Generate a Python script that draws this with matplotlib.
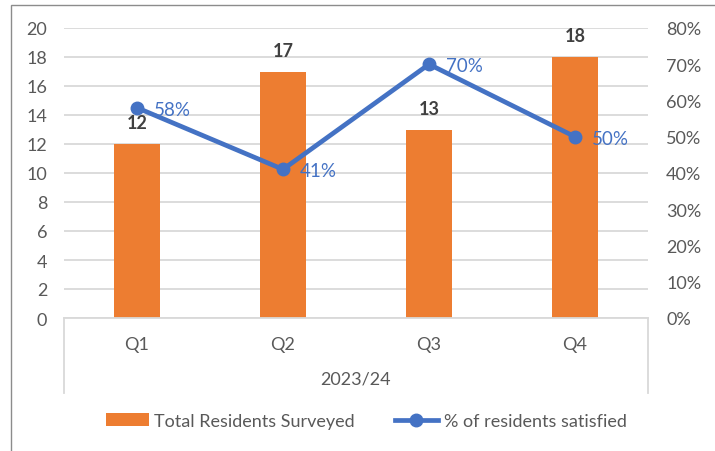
import matplotlib.pyplot as plt
from matplotlib.lines import Line2D
from matplotlib.patches import Rectangle

quarters = ["Q1", "Q2", "Q3", "Q4"]
period = "2023/24"
surveyed = [12, 17, 13, 18]
satisfied = [0.58, 0.41, 0.70, 0.50]
satisfied_labels = ["58%", "41%", "70%", "50%"]

orange = "#ED7D31"
blue = "#4472C4"
grid = "#D9D9D9"
text_col = "#595959"

plt.rcParams['font.family'] = ['Lato', 'DejaVu Sans']

fig = plt.figure(figsize=(7.15, 4.52), dpi=100)
ax = fig.add_axes([64 / 715, 1 - 319 / 452, 584 / 715, 290 / 452])
ax2 = ax.twinx()

x = list(range(len(quarters)))
bars = ax.bar(x, surveyed, width=0.315, color=orange, zorder=2)
for xi, v in zip(x, surveyed):
    ax.annotate(str(v), (xi, v), xytext=(0, 9), textcoords="offset points",
                ha="center", va="bottom", fontsize=13, fontweight="bold", color="#404040")

ax.set_ylim(0, 20)
ax.set_yticks(range(0, 21, 2))
ax.set_xlim(-0.5, 3.5)
ax.set_xticks(x)
ax.set_xticklabels(quarters)
ax.grid(axis="y", color=grid, linewidth=1.3, zorder=0)
ax.set_axisbelow(True)
ax.tick_params(axis="both", length=0, labelsize=13, labelcolor=text_col)
ax.tick_params(axis="y", pad=12)
ax.tick_params(axis="x", pad=13)
ax.set_xlabel(period, fontsize=13, color=text_col, labelpad=13)
for s in ["top", "left", "right"]:
    ax.spines[s].set_visible(False)
ax.spines["bottom"].set_color(grid)
ax.spines["bottom"].set_linewidth(1.3)

line, = ax2.plot(x, satisfied, color=blue, linewidth=3.4, marker="o", markersize=9, zorder=3)
for xi, v, lab in zip(x, satisfied, satisfied_labels):
    ax2.annotate(lab, (xi, v), xytext=(12, -1), textcoords="offset points",
                 ha="left", va="center", fontsize=13.5, color=blue)
ax2.set_ylim(0, 0.8)
ax2.set_yticks([i / 10 for i in range(9)])
ax2.set_yticklabels([f"{i * 10}%" for i in range(9)])
ax2.tick_params(axis="y", length=0, labelsize=13, labelcolor=text_col, pad=13)
for s in ax2.spines.values():
    s.set_visible(False)

# category box lines below the axis
for px in (64, 648):
    fig.add_artist(Line2D([px / 715, px / 715], [1 - 319 / 452, 1 - 394 / 452],
                          color=grid, linewidth=1.3))

# outer chart border
fig.add_artist(Rectangle((11 / 715, -0.1), 1.0, 1 - 6 / 452 + 0.1, fill=False,
                         edgecolor="#8C8C8C", linewidth=1.0))

fig.legend([bars, line], ["Total Residents Surveyed", "% of residents satisfied"],
           loc="center", bbox_to_anchor=(0.512, 1 - 422 / 452), ncol=2, frameon=False,
           fontsize=13, labelcolor=text_col, handlelength=2.4, columnspacing=2.2,
           handletextpad=0.3)

fig.savefig("out.png", dpi=100)
